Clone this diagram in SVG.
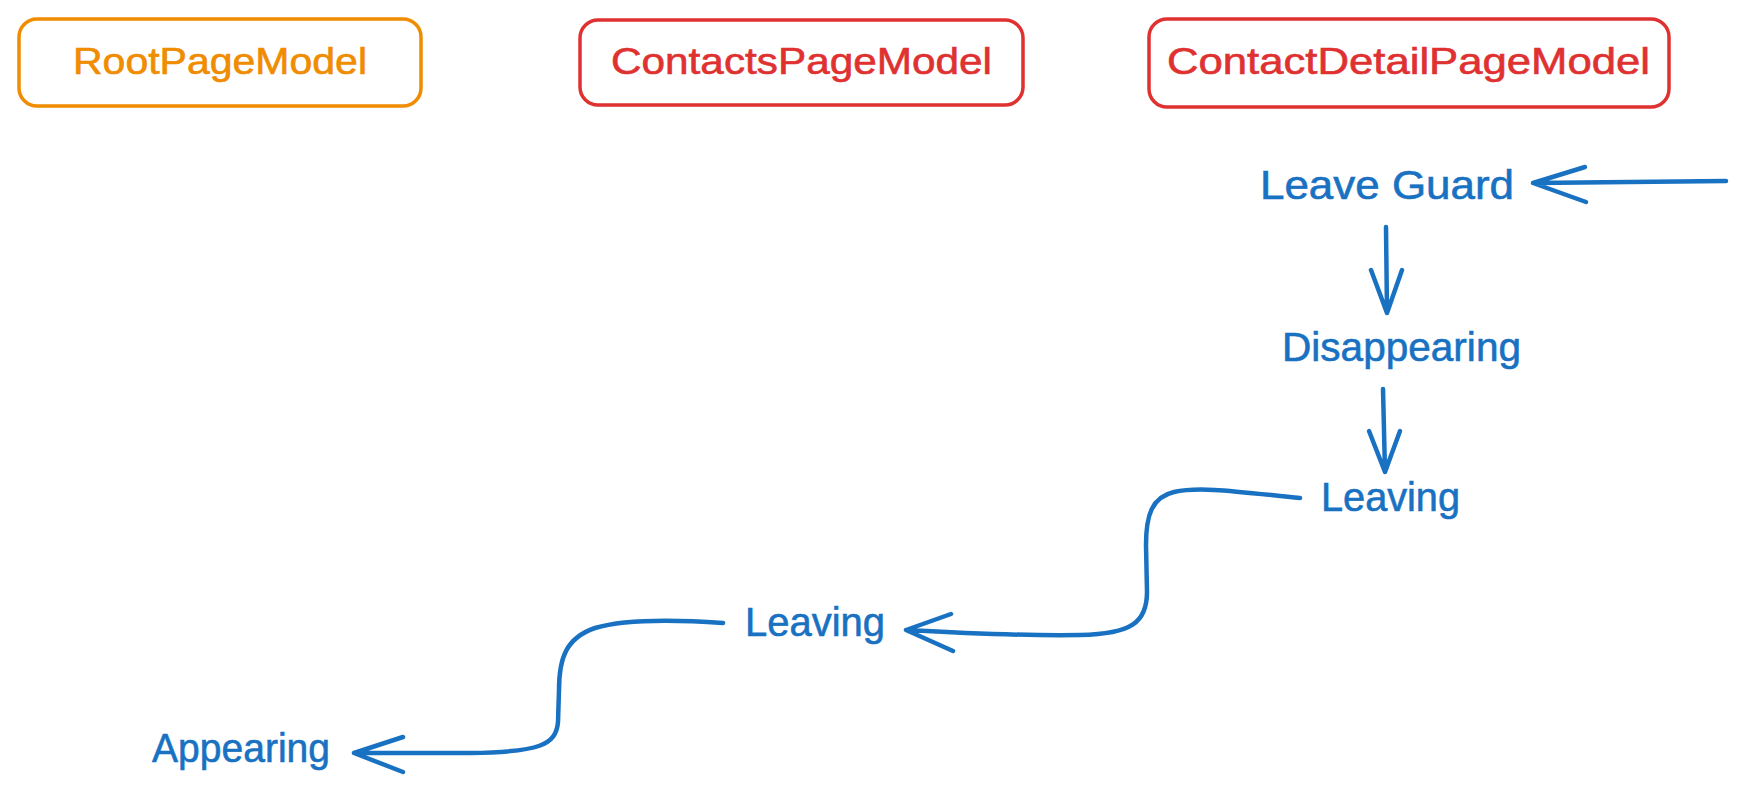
<svg xmlns="http://www.w3.org/2000/svg" width="1744" height="792" viewBox="0 0 1744 792">
<style>
.box{fill:none;stroke-width:3.5;stroke-linejoin:round}
.orange{stroke:#f08c00}
.red{stroke:#e03131}
.t{font-family:"Liberation Sans",Arial,sans-serif;text-anchor:start}
.to{fill:#f08c00;font-size:36px;stroke:#f08c00;stroke-width:0.6}
.tr{fill:#e03131;font-size:36px;stroke:#e03131;stroke-width:0.6}
.tb{fill:#1971c2;font-size:40px;stroke:#1971c2;stroke-width:0.6}
.c{fill:none;stroke:#1971c2;stroke-width:4.5;stroke-linecap:round;stroke-linejoin:round}
</style>
<rect width="1744" height="792" fill="#ffffff"/>
<g id="root-page-model">
<rect class="box orange" x="19" y="19" width="402" height="87" rx="18"/>
<text class="t to" x="73" y="74" textLength="294" lengthAdjust="spacingAndGlyphs">RootPageModel</text>
</g>
<g id="contacts-page-model">
<rect class="box red" x="580" y="20" width="443" height="85" rx="18"/>
<text class="t tr" x="611" y="74" textLength="381" lengthAdjust="spacingAndGlyphs">ContactsPageModel</text>
</g>
<g id="contact-detail-page-model">
<rect class="box red" x="1149" y="19" width="520" height="88" rx="18"/>
<text class="t tr" x="1167" y="74" textLength="483" lengthAdjust="spacingAndGlyphs">ContactDetailPageModel</text>
</g>
<g id="leave-guard">
<text class="t tb" x="1260" y="199" textLength="254" lengthAdjust="spacingAndGlyphs">Leave Guard</text>
</g>
<g id="disappearing">
<text class="t tb" x="1282" y="361" textLength="239" lengthAdjust="spacingAndGlyphs">Disappearing</text>
</g>
<g id="leaving-detail">
<text class="t tb" x="1321" y="511" textLength="139" lengthAdjust="spacingAndGlyphs">Leaving</text>
</g>
<g id="leaving-contacts">
<text class="t tb" x="745" y="636" textLength="140" lengthAdjust="spacingAndGlyphs">Leaving</text>
</g>
<g id="appearing">
<text class="t tb" x="152" y="762" textLength="178" lengthAdjust="spacingAndGlyphs">Appearing</text>
</g>
<g id="connectors">
<path class="c" d="M1726,181 L1533,183 M1585,167 L1533,183 L1586,202"/>
<path class="c" d="M1386,227 L1387,313 M1371,270 L1387,313 L1402,270"/>
<path class="c" d="M1383,389 L1385,472 M1369,431 L1385,472 L1400,431"/>
<path class="c" d="M1300,498 C1240,492 1200,486 1174,492 C1152,497 1146,515 1146,545 L1147,592 C1147,622 1132,634 1080,635 C1020,636 960,633 906,630 M951,614 L906,630 L953,651"/>
<path class="c" d="M723,623 C680,620 625,619 595,628 C566,638 559,658 559,690 L558,722 C556,745 540,752 470,753 L354,753 M403,737 L354,753 L403,772"/>
</g>
</svg>
